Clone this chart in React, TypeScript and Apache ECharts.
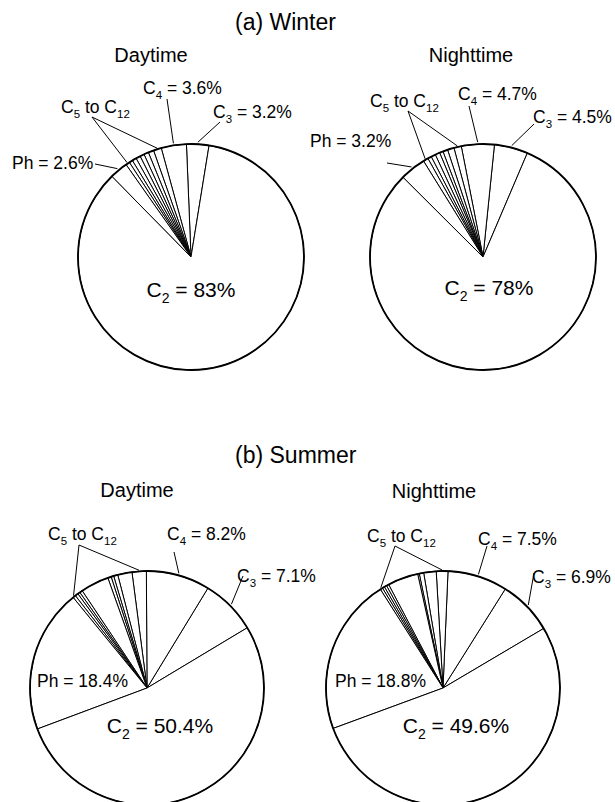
import React, { useEffect, useRef } from 'react';
import * as echarts from 'echarts';

const panelTitles = ['(a) Winter', '(b) Summer'];
const pieTitles = ['Daytime', 'Nighttime', 'Daytime', 'Nighttime'];

const c3Values = [3.2, 4.8, 7.67, 7.56];
const c4Values = [3.6, 4.7, 8.8, 8.25];
const heavyWinterDay = [1.14, 0.78, 0.67, 0.61, 0.64, 0.61, 0.5, 0.56];
const heavyWinterNight = [1.06, 0.94, 0.69, 0.5, 0.67, 0.64, 0.53, 0.72];
const heavySummerDay = [1.97, 1.97, 0.58, 0.36, 0.47, 3.92, 0.39, 0.33, 0.42, 0.39];
const heavySummerNight = [1.61, 1.72, 0.61, 0.22, 4.22, 0.33, 0.33, 0.31, 0.33];
const heavyValues = [heavyWinterDay, heavyWinterNight, heavySummerDay, heavySummerNight];
const phValues = [2.6, 3.7, 19.8, 21.6];
const c2Values = [85.1, 81.05, 52.9, 52.86];

// printed labels
const c3Labels = ['3.2%', '4.5%', '7.1%', '6.9%'];
const c4Labels = ['3.6%', '4.7%', '8.2%', '7.5%'];
const phLabels = ['2.6%', '3.2%', '18.4%', '18.8%'];
const c2Labels = ['83%', '78%', '50.4%', '49.6%'];

// layout (pixels)
const startAngles = [80.8, 66.9, 31, 30.6];
type P = [number, number];
interface Lay {
  cx: number; cy: number; r: number; subX: number; subY: number;
  c4: P; c4End: P; c3: P; c3End: P; heavy: P; apex: P; ph: P; phEnd: P | null; c2: P;
}
const layout: Lay[] = [
  { cx: 191, cy: 257, r: 113, subX: 151, subY: 62,
    c4: [143, 94], c4End: [167, 99], c3: [213, 118], c3End: [220, 122],
    heavy: [61, 113], apex: [92, 117], ph: [12, 169], phEnd: [95, 164], c2: [191, 297] },
  { cx: 483, cy: 257, r: 113, subX: 471, subY: 62,
    c4: [458, 100], c4End: [469, 106], c3: [533, 123], c3End: [534, 124],
    heavy: [370, 107], apex: [408, 111], ph: [310, 147], phEnd: [387, 163], c2: [489, 295] },
  { cx: 147, cy: 688, r: 117, subX: 137, subY: 497,
    c4: [167, 540], c4End: [174, 552], c3: [237, 582], c3End: [243, 576],
    heavy: [48, 540], apex: [79, 545], ph: [37, 687], phEnd: null, c2: [160, 733] },
  { cx: 443, cy: 688, r: 117, subX: 434, subY: 498,
    c4: [478, 545], c4End: [487, 546], c3: [532, 583], c3End: [534, 573],
    heavy: [367, 542], apex: [395, 546], ph: [335, 687], phEnd: null, c2: [456, 733] },
];
const titlePos: P[] = [[235, 30], [235, 463]];

const FONT = '"Liberation Sans", Arial, Helvetica, sans-serif';
const Z = 50;

let measureCtx: CanvasRenderingContext2D | null = null;
function textWidth(t: string, size: number) {
  if (!measureCtx) measureCtx = document.createElement('canvas').getContext('2d');
  if (!measureCtx) return t.length * size * 0.55;
  measureCtx.font = `${size}px "Liberation Sans"`;
  return measureCtx.measureText(t).width;
}

function pt(cx: number, cy: number, R: number, deg: number): P {
  const a = (deg * Math.PI) / 180;
  return [cx + R * Math.cos(a), cy - R * Math.sin(a)];
}

function plainText(x: number, base: number, text: string, size: number, align = 'left') {
  return {
    type: 'text', x, y: base - 0.3465 * size, silent: true, z: Z,
    style: { text, align, verticalAlign: 'middle', fontFamily: FONT, fontSize: size, fill: '#000' },
  };
}

// parts: [text, isSubscript]
function subLabel(x: number, base: number, parts: [string, boolean][], size: number, sub: number, drop: number, align = 'left') {
  const widths = parts.map(([t, s]) => textWidth(t, s ? sub : size));
  const total = widths.reduce((a, b) => a + b, 0);
  let cur = align === 'center' ? x - total / 2 : x;
  const out: any[] = [];
  parts.forEach(([t, s], k) => {
    out.push(plainText(cur, s ? base + drop : base, t, s ? sub : size));
    cur += widths[k];
  });
  return out;
}

function seg(a: P, b: P) {
  return {
    type: 'line', silent: true, z: Z,
    shape: { x1: a[0], y1: a[1], x2: b[0], y2: b[1] },
    style: { stroke: '#000', lineWidth: 1 },
  };
}

export default function App() {
  const ref = useRef<HTMLDivElement>(null);
  useEffect(() => {
    if (!ref.current) return;
    const chart = echarts.init(ref.current, undefined, { renderer: 'svg' });
    const series: any[] = [];
    const graphic: any[] = [];

    panelTitles.forEach((t, i) => graphic.push(plainText(titlePos[i][0], titlePos[i][1], t, 23)));

    layout.forEach((L, i) => {
      const heavy = heavyValues[i];
      const values = [c3Values[i], c4Values[i], ...heavy, phValues[i], c2Values[i]];
      const names = ['C3', 'C4', ...heavy.map((_, k) => `C5–C12 part ${k + 1}`), 'Ph', 'C2'];
      const total = values.reduce((a, b) => a + b, 0);
      let acc = startAngles[i];
      const spans = values.map((v) => {
        const a0 = acc;
        acc += (v / total) * 360;
        return [a0, acc];
      });
      const mid = (k: number) => (spans[k][0] + spans[k][1]) / 2;

      series.push({
        type: 'pie',
        center: [L.cx, L.cy],
        radius: L.r,
        startAngle: startAngles[i],
        clockwise: false,
        silent: true,
        animation: false,
        label: { show: false },
        labelLine: { show: false },
        emphasis: { disabled: true },
        itemStyle: { color: '#fff', borderColor: '#000', borderWidth: 1 },
        data: values.map((v, k) => ({ name: names[k], value: v })),
      });

      graphic.push({
        type: 'circle', silent: true, z: Z,
        shape: { cx: L.cx, cy: L.cy, r: L.r },
        style: { fill: 'none', stroke: '#000', lineWidth: 1.8 },
      });

      graphic.push(plainText(L.subX, L.subY, pieTitles[i], 20, 'center'));

      const fs = 17.5, ss = 11.5, dr = 4.5;
      graphic.push(...subLabel(L.c4[0], L.c4[1], [['C', false], ['4', true], [' = ' + c4Labels[i], false]], fs, ss, dr));
      graphic.push(...subLabel(L.c3[0], L.c3[1], [['C', false], ['3', true], [' = ' + c3Labels[i], false]], fs, ss, dr));
      graphic.push(...subLabel(L.heavy[0], L.heavy[1], [['C', false], ['5', true], [' to C', false], ['12', true]], fs, ss, dr));
      graphic.push(plainText(L.ph[0], L.ph[1], 'Ph = ' + phLabels[i], fs));
      graphic.push(...subLabel(L.c2[0], L.c2[1], [['C', false], ['2', true], [' = ' + c2Labels[i], false]], 21, 14, 5.5, 'center'));

      // leader lines
      graphic.push(seg(L.c4End, pt(L.cx, L.cy, L.r + 2, mid(1))));
      graphic.push(seg(L.c3End, pt(L.cx, L.cy, L.r + 2, mid(0))));
      graphic.push(seg(L.apex, pt(L.cx, L.cy, L.r + 1, mid(2))));
      graphic.push(seg(L.apex, pt(L.cx, L.cy, L.r + 1, mid(2 + heavy.length - 1))));
      if (L.phEnd) graphic.push(seg(L.phEnd, pt(L.cx, L.cy, L.r + 2, mid(2 + heavy.length))));
    });

    chart.setOption({
      animation: false,
      backgroundColor: '#fff',
      series,
      graphic: { elements: graphic },
    });
    return () => chart.dispose();
  }, []);
  return <div ref={ref} style={{ position: 'fixed', left: 0, top: 0, width: 615, height: 802 }} />;
}
